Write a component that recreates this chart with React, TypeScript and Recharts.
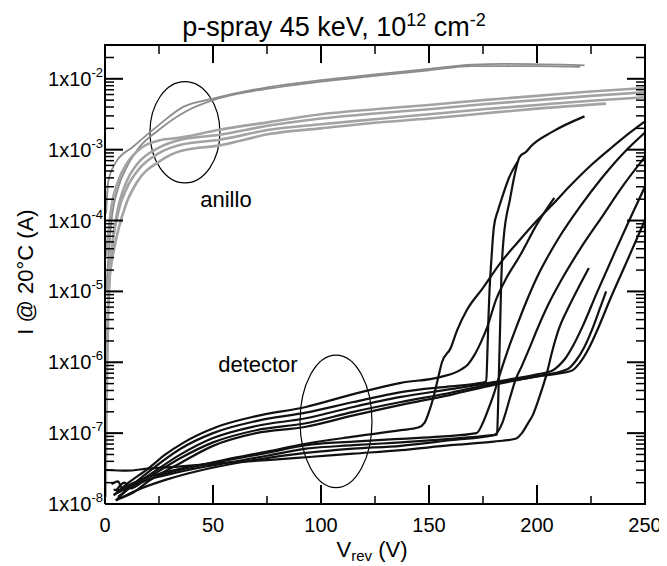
import React from 'react';
import { LineChart, Line, XAxis, YAxis, ReferenceArea, ReferenceDot } from 'recharts';

// I-V curves, [V_rev (V), I (A)]

// detector (black)
const det1: [number, number][] = [[4, 1.35e-8], [13, 1.82e-8], [25, 2.51e-8], [40, 3.31e-8], [55, 4.17e-8], [75, 5.5e-8], [93, 7.08e-8], [115, 8.91e-8], [137, 1.1e-7], [145, 1.2e-7], [148, 1.41e-7], [150, 2.0e-7], [152, 3.16e-7], [154, 5.62e-7], [156, 1.0e-6], [160, 1.58e-6], [163, 2.82e-6], [167.6, 5.5e-6], [175, 1.12e-5], [183, 2.51e-5], [191, 4.9e-5], [200, 1.0e-4], [208, 1.78e-4], [215, 3.02e-4], [225, 6.03e-4], [235, 1.1e-3], [243, 1.74e-3], [250, 2.51e-3]];
const det2: [number, number][] = [[4, 1.32e-8], [10, 1.91e-8], [20, 3.16e-8], [28, 5.01e-8], [36, 7.24e-8], [52, 1.23e-7], [70, 1.74e-7], [93, 2.34e-7], [115, 3.55e-7], [137, 5.13e-7], [155, 6.17e-7], [165, 7.94e-7], [168, 9.33e-7], [171, 1.26e-6], [174, 1.91e-6], [177, 3.16e-6], [181, 7.59e-6], [186, 1.58e-5], [192, 3.16e-5], [200, 8.91e-5], [208, 2.09e-4]];
const det3: [number, number][] = [[5, 1.12e-8], [12, 1.78e-8], [20, 2.82e-8], [35, 6.03e-8], [50, 1.0e-7], [70, 1.48e-7], [93, 1.95e-7], [115, 2.75e-7], [137, 3.8e-7], [160, 4.57e-7], [172, 5.01e-7], [176.5, 5.37e-7], [177, 1.26e-6], [177.5, 3.98e-6], [178, 1.0e-5], [179, 3.16e-5], [180, 7.94e-5], [182, 1.41e-4], [184, 2.19e-4], [187, 3.98e-4], [191, 6.76e-4]];
const det4: [number, number][] = [[5, 1.51e-8], [9, 2.0e-8], [12, 1.66e-8], [18, 2.09e-8], [30, 2.63e-8], [45, 3.31e-8], [60, 3.98e-8], [75, 4.79e-8], [93, 6.03e-8], [115, 6.76e-8], [137, 7.41e-8], [160, 8.32e-8], [175, 9.12e-8], [181.5, 9.55e-8], [182, 2.51e-7], [182.5, 1.0e-6], [183, 3.98e-6], [183.5, 1.58e-5], [184.5, 5.37e-5], [187.5, 2.0e-4], [192, 7.94e-4], [195, 9.33e-4], [197, 1.1e-3], [207, 1.78e-3], [222, 2.95e-3]];
const det5: [number, number][] = [[3, 1.91e-8], [6, 2.09e-8], [8, 1.66e-8], [12, 1.91e-8], [20, 2.4e-8], [35, 3.16e-8], [50, 3.8e-8], [75, 5.25e-8], [93, 6.76e-8], [115, 7.59e-8], [137, 8.32e-8], [155, 8.91e-8], [172, 1.0e-7], [175, 1.41e-7], [177, 2.0e-7], [180, 3.55e-7], [183, 7.08e-7], [186.6, 1.51e-6], [190, 2.88e-6], [195, 7.08e-6], [200, 1.58e-5], [210, 5.62e-5], [220, 1.58e-4], [230, 3.98e-4], [240, 8.91e-4], [250, 1.74e-3]];
const det6: [number, number][] = [[5, 1.12e-8], [15, 1.58e-8], [28, 2.19e-8], [45, 3.02e-8], [65, 3.98e-8], [93, 5.25e-8], [115, 6.03e-8], [137, 6.61e-8], [160, 7.94e-8], [180, 9.33e-8], [184, 1.41e-7], [187.5, 3.16e-7], [190, 5.62e-7], [193, 8.91e-7], [196.5, 1.58e-6], [200, 2.88e-6], [205, 6.31e-6], [212, 1.58e-5], [220, 3.98e-5], [230, 1.12e-4], [240, 3.16e-4], [250, 7.94e-4]];
const det7: [number, number][] = [[0.5, 3.02e-8], [10, 2.95e-8], [20, 3.16e-8], [35, 3.39e-8], [55, 3.8e-8], [75, 4.17e-8], [93, 4.57e-8], [115, 5.13e-8], [137, 5.75e-8], [160, 6.76e-8], [180, 7.59e-8], [190, 8.32e-8], [193, 1.0e-7], [196, 1.41e-7], [198, 1.78e-7], [201, 3.16e-7], [204.6, 7.08e-7], [207, 1.41e-6], [210, 2.88e-6], [215, 6.31e-6], [220, 1.26e-5], [224, 2.14e-5]];
const det8: [number, number][] = [[6, 1.26e-8], [14, 1.91e-8], [20, 2.51e-8], [35, 5.01e-8], [50, 8.51e-8], [70, 1.26e-7], [93, 1.62e-7], [115, 2.34e-7], [137, 3.24e-7], [160, 4.17e-7], [180, 5.25e-7], [200, 6.76e-7], [207, 7.59e-7], [210, 8.91e-7], [213, 1.12e-6], [217, 1.78e-6], [221, 3.16e-6], [228, 1.0e-5], [236, 3.55e-5], [243, 1.05e-4], [250, 3.02e-4]];
const det9: [number, number][] = [[4, 1.58e-8], [9, 1.58e-8], [14, 2.0e-8], [20, 2.4e-8], [35, 4.47e-8], [50, 7.41e-8], [70, 1.1e-7], [93, 1.38e-7], [115, 2.0e-7], [137, 2.75e-7], [160, 3.72e-7], [180, 5.01e-7], [200, 6.31e-7], [214, 7.94e-7], [218, 1.05e-6], [222, 1.66e-6], [226, 3.16e-6], [229, 5.62e-6], [232, 1.0e-5]];
const det10: [number, number][] = [[7, 1.2e-8], [14, 1.51e-8], [20, 2.09e-8], [35, 3.8e-8], [50, 6.61e-8], [70, 1.0e-7], [93, 1.23e-7], [115, 1.78e-7], [137, 2.51e-7], [160, 3.47e-7], [180, 4.79e-7], [200, 6.31e-7], [216, 7.59e-7], [220, 1.0e-6], [224, 1.58e-6], [228, 2.88e-6], [234, 7.94e-6], [242, 2.82e-5], [250, 1.02e-4]];

// anillo (guard ring, gray)
const ring1: [number, number][] = [[0.5, 1.26e-4], [1.5, 3.55e-4], [5, 6.61e-4], [13, 1.1e-3], [25, 2.24e-3], [36, 3.98e-3], [50, 5.25e-3], [75, 7.59e-3], [100, 9.55e-3], [125, 1.15e-2], [150, 1.38e-2], [170, 1.58e-2], [185, 1.62e-2], [222, 1.55e-2]];
const ring2: [number, number][] = [[0.5, 1.0e-5], [3, 1.0e-4], [6, 2.82e-4], [10, 5.62e-4], [15, 1.0e-3], [25, 1.91e-3], [38, 3.55e-3], [50, 5.01e-3], [75, 7.24e-3], [100, 9.12e-3], [125, 1.1e-2], [150, 1.32e-2], [170, 1.51e-2], [200, 1.51e-2], [220, 1.48e-2]];
const ring3: [number, number][] = [[0.5, 3.16e-5], [3, 1.58e-4], [6, 3.55e-4], [10, 6.31e-4], [15, 9.55e-4], [25, 1.35e-3], [35, 1.48e-3], [53, 1.91e-3], [76, 2.45e-3], [100, 3.16e-3], [125, 3.72e-3], [150, 4.27e-3], [175, 5.01e-3], [200, 5.75e-3], [225, 6.61e-3], [250, 7.41e-3]];
const ring4: [number, number][] = [[0.5, 1.0e-6], [2, 1.58e-5], [5, 1.0e-4], [10, 3.55e-4], [15, 6.31e-4], [25, 1.07e-3], [35, 1.38e-3], [53, 1.62e-3], [76, 2.19e-3], [100, 2.75e-3], [125, 3.24e-3], [150, 3.72e-3], [175, 4.37e-3], [200, 5.01e-3], [225, 5.75e-3], [250, 6.46e-3]];
const ring5: [number, number][] = [[0.3, 1.26e-8], [0.8, 3.16e-7], [1.5, 5.01e-6], [3, 3.16e-5], [6, 1.26e-4], [10, 2.82e-4], [15, 5.01e-4], [25, 8.91e-4], [35, 1.17e-3], [53, 1.38e-3], [76, 1.91e-3], [100, 2.29e-3], [125, 2.69e-3], [150, 3.16e-3], [175, 3.72e-3], [200, 4.27e-3], [225, 4.9e-3], [250, 5.5e-3]];
const ring6: [number, number][] = [[1, 1.0e-5], [3, 2.51e-5], [6, 7.08e-5], [10, 1.78e-4], [15, 3.55e-4], [25, 6.76e-4], [35, 9.55e-4], [53, 1.15e-3], [76, 1.66e-3], [100, 2.0e-3], [125, 2.4e-3], [150, 2.75e-3], [175, 3.24e-3], [200, 3.8e-3], [232, 4.47e-3]];

const detectorCurves = [det1, det2, det3, det4, det5, det6, det7, det8, det9, det10];
const ringCurves = [ring1, ring2, ring3, ring4, ring5, ring6];

const X_MAX = 250;
const Y_MIN = 1e-8;
const Y_MAX = 3e-2;
const xTicks = [0, 25, 50, 75, 100, 125, 150, 175, 200, 225, 250];
const decades = [-8, -7, -6, -5, -4, -3, -2];
const mantissas = [1, 2, 3, 4, 5, 6, 7, 8, 9];
const yTicks = decades
  .flatMap(e => mantissas.map(m => m * Math.pow(10, e)))
  .filter(v => v < 0.029);

// annotation ellipses (data units) and their labels
const ringEllipse = { x1: 20.8, x2: 53.2, y1: 3.4e-4, y2: 9.1e-3 };
const detEllipse = { x1: 90.3, x2: 123.6, y1: 1.7e-8, y2: 1.26e-6 };
const ringLabel = { x: 56, y: 1.57e-4, text: 'anillo' };
const detLabel = { x: 70.8, y: 7.2e-7, text: 'detector' };

const FONT = "'Liberation Sans', Arial, Helvetica, sans-serif";
const W = 659;
const H = 558;
const MARGIN = { top: 37, right: 22, bottom: 32, left: 0 };
const Y_AXIS_W = 97;
const X_AXIS_H = 30;
// plot box, for the closing top/right frame and its mirrored ticks
const PLOT_L = MARGIN.left + Y_AXIS_W;
const PLOT_T = MARGIN.top;
const PLOT_W = W - MARGIN.left - MARGIN.right - Y_AXIS_W;
const PLOT_H = H - MARGIN.top - MARGIN.bottom - X_AXIS_H;
const mirrorX = (v: number) => PLOT_L + (v / X_MAX) * PLOT_W;
const mirrorY = (v: number) =>
  PLOT_T + ((Math.log10(Y_MAX) - Math.log10(v)) / (Math.log10(Y_MAX) - Math.log10(Y_MIN))) * PLOT_H;

const toRows = (pts: [number, number][]) => pts.map(([v, i]) => ({ v, i }));

const isDecade = (v: number) => Math.abs(Math.log10(v) - Math.round(Math.log10(v))) < 1e-6;

const LeftTick = ({ x, y, payload }: any) => {
  const major = isDecade(payload.value);
  const exp = Math.round(Math.log10(payload.value));
  return (
    <g>
      <line x1={x} x2={x + (major ? 18 : 9)} y1={y} y2={y} stroke="#000" strokeWidth={major ? 2 : 1.5} />
      {major && (
        <text x={x - 2} y={y + 7} textAnchor="end" fontSize={20} fontFamily={FONT} fill="#000">
          1x10<tspan dy={-9} fontSize={13}>{exp}</tspan>
        </text>
      )}
    </g>
  );
};

const BottomTick = ({ x, y, payload }: any) => {
  const major = payload.value % 50 === 0;
  return (
    <g>
      <line x1={x} x2={x} y1={y} y2={y - (major ? 19 : 8)} stroke="#000" strokeWidth={major ? 2 : 1.5} />
      {major && (
        <text x={x} y={y + 28} textAnchor="middle" fontSize={20} fontFamily={FONT} fill="#000">
          {payload.value}
        </text>
      )}
    </g>
  );
};

const ellipseShape = (p: any) => (
  <ellipse
    cx={p.x + p.width / 2}
    cy={p.y + p.height / 2}
    rx={Math.abs(p.width) / 2}
    ry={Math.abs(p.height) / 2}
    fill="none"
    stroke="#000"
    strokeWidth={1.2}
  />
);

const textShape = (label: string) => (p: any) => (
  <text x={p.cx} y={p.cy} textAnchor="middle" fontSize={22} fontFamily={FONT} fill="#000">
    {label}
  </text>
);

const frame = { stroke: '#000', strokeWidth: 2 };

export default function App() {
  return (
    <div style={{ position: 'relative', width: W, height: H }}>
      <LineChart width={W} height={H} margin={MARGIN}>
        <XAxis
          dataKey="v"
          type="number"
          domain={[0, X_MAX]}
          ticks={xTicks}
          interval={0}
          tick={BottomTick}
          tickSize={0}
          tickMargin={0}
          tickLine={false}
          axisLine={frame}
          height={X_AXIS_H}
          allowDataOverflow
        />
        <YAxis
          type="number"
          scale="log"
          domain={[Y_MIN, Y_MAX]}
          ticks={yTicks}
          interval={0}
          tick={LeftTick}
          tickSize={0}
          tickMargin={0}
          tickLine={false}
          axisLine={frame}
          width={Y_AXIS_W}
          allowDataOverflow
        />

        {ringCurves.map((pts, k) => (
          <Line
            key={`ring${k}`}
            data={toRows(pts)}
            dataKey="i"
            type="monotone"
            stroke={k < 2 ? '#8c8c8c' : '#a3a3a3'}
            strokeWidth={k < 2 ? 1.8 : 2.6}
            dot={false}
            isAnimationActive={false}
          />
        ))}
        {detectorCurves.map((pts, k) => (
          <Line
            key={`det${k}`}
            data={toRows(pts)}
            dataKey="i"
            type="monotone"
            stroke="#111"
            strokeWidth={2.2}
            dot={false}
            isAnimationActive={false}
          />
        ))}

        <ReferenceArea {...ringEllipse} shape={ellipseShape} ifOverflow="visible" />
        <ReferenceArea {...detEllipse} shape={ellipseShape} ifOverflow="visible" />
        <ReferenceDot x={ringLabel.x} y={ringLabel.y} r={0} shape={textShape(ringLabel.text)} />
        <ReferenceDot x={detLabel.x} y={detLabel.y} r={0} shape={textShape(detLabel.text)} />
      </LineChart>

      <svg width={W} height={H} style={{ position: 'absolute', left: 0, top: 0, pointerEvents: 'none' }}>
        {/* top and right edges of the box, with inward mirrored ticks */}
        <path
          d={`M${PLOT_L - 1},${PLOT_T} H${PLOT_L + PLOT_W} V${PLOT_T + PLOT_H + 1}`}
          fill="none"
          stroke="#000"
          strokeWidth={2}
        />
        {xTicks.slice(1, -1).map(v => {
          const len = v % 50 === 0 ? 18 : 9;
          return (
            <line key={`tx${v}`} x1={mirrorX(v)} x2={mirrorX(v)} y1={PLOT_T} y2={PLOT_T + len}
              stroke="#000" strokeWidth={len > 12 ? 2 : 1.5} />
          );
        })}
        {yTicks.slice(1).map(v => {
          const len = isDecade(v) ? 18 : 9;
          return (
            <line key={`ry${v}`} x1={PLOT_L + PLOT_W - len} x2={PLOT_L + PLOT_W} y1={mirrorY(v)} y2={mirrorY(v)}
              stroke="#000" strokeWidth={len > 12 ? 2 : 1.5} />
          );
        })}

        <text x={326} y={28} textAnchor="middle" fontSize={27} fontFamily={FONT} fill="#000">
          p-spray 45 keV, 10<tspan dy={-10} fontSize={18}>12</tspan>
          <tspan dy={10}> cm</tspan>
          <tspan dy={-10} fontSize={18}>-2</tspan>
        </text>
        <text transform="translate(25,264) rotate(-90)" textAnchor="middle" fontSize={22} fontFamily={FONT} fill="#000">
          I @ 20°C (A)
        </text>
        <text x={364} y={549} textAnchor="middle" fontSize={22} fontFamily={FONT} fill="#000">
          V<tspan dy={4} fontSize={15}>rev</tspan>
          <tspan dy={-4}> (V)</tspan>
        </text>
      </svg>
    </div>
  );
}
